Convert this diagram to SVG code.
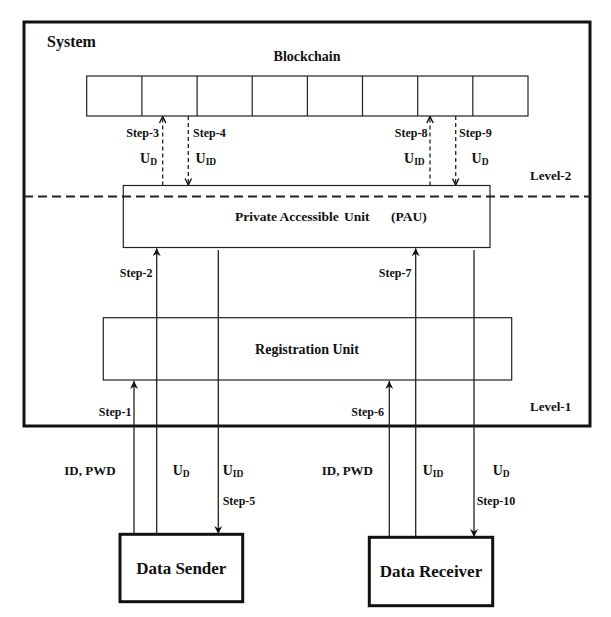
<svg xmlns="http://www.w3.org/2000/svg" width="611" height="617" viewBox="0 0 611 617" font-family="'Liberation Serif', 'DejaVu Serif', serif">
<defs>
<style>
text{font-family:'Liberation Serif','DejaVu Serif',serif;font-weight:bold;fill:#111}
.box{fill:none;stroke:#222;stroke-width:1.2}
.thick{fill:none;stroke:#111;stroke-width:3}
.ln{stroke:#222;stroke-width:1.3;fill:none}
.dl{stroke:#222;stroke-width:1.3;fill:none;stroke-dasharray:4 3}
.step{font-size:12px}
.lab{font-size:14px}
.sub{font-size:9.5px}
</style>
<marker id="ah" viewBox="0 0 8 8" refX="8" refY="4" markerWidth="8" markerHeight="8" markerUnits="userSpaceOnUse" orient="auto">
<path d="M0,0 L8,4 L0,8 L2.5,4 z" fill="#111"/>
</marker>
<marker id="ao" viewBox="0 0 8 8" refX="7.5" refY="4" markerWidth="8" markerHeight="8" markerUnits="userSpaceOnUse" orient="auto">
<path d="M1,0.8 L7.5,4 L1,7.2" fill="none" stroke="#111" stroke-width="1.4"/>
</marker>
</defs>
<rect width="611" height="617" fill="#fff"/>

<g id="system">
<rect class="thick" x="24" y="22" width="566" height="404"/>
<text x="47" y="47" style="font-size:16px">System</text>
<text x="530" y="180" style="font-size:13px">Level-2</text>
<text x="530" y="411" style="font-size:13px">Level-1</text>
<line x1="24" y1="196.5" x2="590" y2="196.5" stroke="#222" stroke-width="2" stroke-dasharray="9 5"/>
</g>

<g id="blockchain">
<text x="307" y="61" text-anchor="middle" class="lab">Blockchain</text>
<rect class="box" x="86.7" y="76" width="441.3" height="40"/>
<path class="box" d="M141.9,76V116 M197.1,76V116 M252.2,76V116 M307.4,76V116 M362.5,76V116 M417.7,76V116 M472.8,76V116"/>
</g>

<g id="pau">
<rect class="box" x="123.3" y="185.5" width="366.7" height="62"/>
<text y="221" style="font-size:13.5px"><tspan x="235">Private Accessible</tspan><tspan x="344">Unit</tspan><tspan x="391">(PAU)</tspan></text>
</g>

<g id="registration">
<rect class="box" x="103.3" y="317.7" width="408.4" height="62.3"/>
<text x="307" y="354" text-anchor="middle" class="lab">Registration Unit</text>
</g>

<g id="sender">
<rect class="thick" x="120" y="534.3" width="122.7" height="67.4"/>
<text x="181.3" y="574" text-anchor="middle" style="font-size:17px">Data Sender</text>
</g>

<g id="receiver">
<rect class="thick" x="369.3" y="537.3" width="123.4" height="68.4"/>
<text x="431" y="577" text-anchor="middle" style="font-size:17px">Data Receiver</text>
</g>

<g id="connectors">
<line class="dl" x1="162.7" y1="185.5" x2="162.7" y2="116.5" marker-end="url(#ao)"/>
<line class="dl" x1="188.3" y1="116" x2="188.3" y2="185" marker-end="url(#ao)"/>
<line class="dl" x1="430" y1="185.5" x2="430" y2="116.5" marker-end="url(#ao)"/>
<line class="dl" x1="455.7" y1="116" x2="455.7" y2="185" marker-end="url(#ao)"/>
<line class="ln" x1="134" y1="534.3" x2="134" y2="381" marker-end="url(#ah)"/>
<line class="ln" x1="156.7" y1="534.3" x2="156.7" y2="248.2" marker-end="url(#ah)"/>
<line class="ln" x1="218.3" y1="250" x2="218.3" y2="534" marker-end="url(#ah)"/>
<line class="ln" x1="389.3" y1="537.3" x2="389.3" y2="381" marker-end="url(#ah)"/>
<line class="ln" x1="415.7" y1="537.3" x2="415.7" y2="248.2" marker-end="url(#ah)"/>
<line class="ln" x1="474" y1="250" x2="474" y2="537" marker-end="url(#ah)"/>
</g>

<g id="labels">
<text class="step" x="159" y="137" text-anchor="end">Step-3</text>
<text class="step" x="193" y="137">Step-4</text>
<text class="lab" x="140" y="163">U<tspan class="sub" dy="2">D</tspan></text>
<text class="lab" x="195.5" y="163">U<tspan class="sub" dy="2">ID</tspan></text>
<text class="step" x="427.5" y="137" text-anchor="end">Step-8</text>
<text class="step" x="459" y="137">Step-9</text>
<text class="lab" x="404" y="163">U<tspan class="sub" dy="2">ID</tspan></text>
<text class="lab" x="471.5" y="163">U<tspan class="sub" dy="2">D</tspan></text>

<text class="step" x="152.5" y="277" text-anchor="end">Step-2</text>
<text class="step" x="411.5" y="277" text-anchor="end">Step-7</text>
<text class="step" x="131.5" y="416" text-anchor="end">Step-1</text>
<text class="step" x="384" y="416" text-anchor="end">Step-6</text>

<text x="64.3" y="475" style="font-size:13px">ID, PWD</text>
<text class="lab" x="172.7" y="475">U<tspan class="sub" dy="2">D</tspan></text>
<text class="lab" x="222.7" y="475">U<tspan class="sub" dy="2">ID</tspan></text>
<text class="step" x="222.7" y="505">Step-5</text>

<text x="321.7" y="475" style="font-size:13px">ID, PWD</text>
<text class="lab" x="422.7" y="475">U<tspan class="sub" dy="2">ID</tspan></text>
<text class="lab" x="492.7" y="475">U<tspan class="sub" dy="2">D</tspan></text>
<text class="step" x="476.7" y="505">Step-10</text>
</g>
</svg>
